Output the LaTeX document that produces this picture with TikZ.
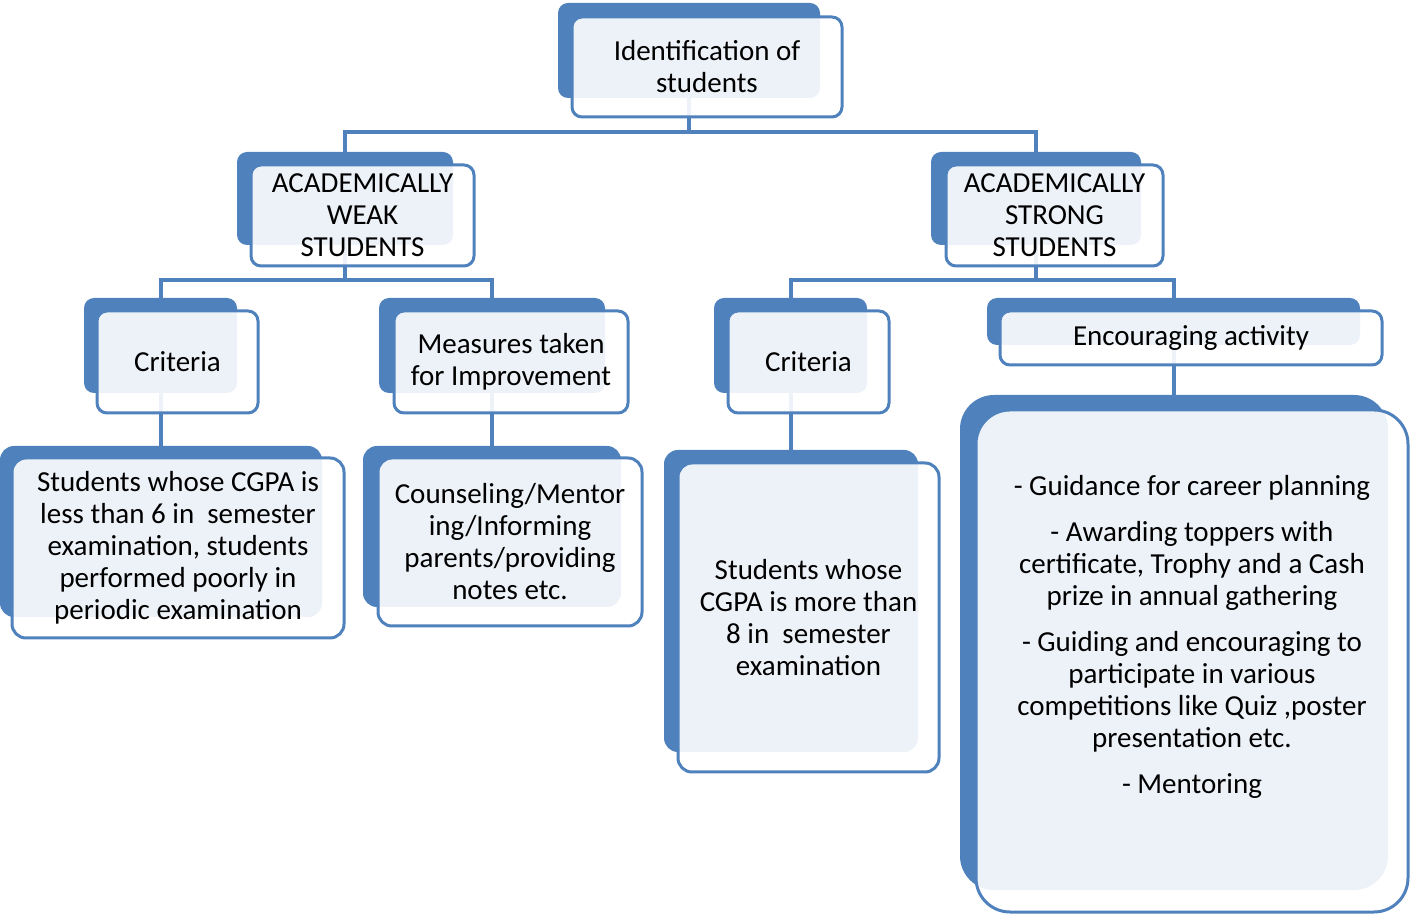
\documentclass[tikz,border=0pt]{standalone}
\usepackage{fontspec}
\setmainfont{Carlito}
\usepackage{tikz}
\definecolor{offblue}{RGB}{79,129,189}

\begin{document}
\begin{tikzpicture}[
  x=0.5pt, y=-0.5pt,
  back/.style={fill=offblue, rounded corners=5pt, inner sep=0pt},
  front/.style={draw=offblue, line width=1.5pt, fill=white, fill opacity=0.9, text opacity=1,
    rounded corners=5pt, align=center, inner sep=0pt, font=\fontsize{14.5}{16}\selectfont},
  link/.style={draw=offblue, line width=2pt}
]
\useasboundingbox (0,0) rectangle (1410,914);

\node[back, minimum width=131pt, minimum height=47.5pt] (idback) at (689,50.5) {};
\node[back, minimum width=108pt, minimum height=46.5pt] (weakback) at (345,198.5) {};
\node[back, minimum width=105pt, minimum height=46.5pt] (strongback) at (1036,198.5) {};
\node[back, minimum width=76.5pt, minimum height=47.5pt] (critwback) at (160.5,345.5) {};
\node[back, minimum width=113pt, minimum height=47.5pt] (measback) at (492,345.5) {};
\node[back, minimum width=76.5pt, minimum height=47.5pt] (critsback) at (790.5,345.5) {};
\node[back, minimum width=186.5pt, minimum height=23.5pt] (encback) at (1173.5,321.5) {};
\node[back, rounded corners=7pt, minimum width=161pt, minimum height=85.5pt] (lowback) at (161,531.5) {};
\node[back, rounded corners=7pt, minimum width=129pt, minimum height=80.5pt] (counsback) at (492,526.5) {};
\node[back, rounded corners=7pt, minimum width=127pt, minimum height=151pt] (highback) at (791,601) {};
\node[back, rounded corners=17pt, minimum width=214pt, minimum height=247.5pt] (actback) at (1174,642.5) {};

\coordinate (topbar) at (689,132);
\coordinate (weakbar) at (345,280);
\coordinate (strongbar) at (1036,280);
\draw[link] (idback.south) -- (topbar);
\draw[link] (weakback.north) |- (topbar) -| (strongback.north);
\draw[link] (weakback.south) -- (weakbar);
\draw[link] (critwback.north) |- (weakbar) -| (measback.north);
\draw[link] (strongback.south) -- (strongbar);
\draw[link] (critsback.north) |- (strongbar) -| (encback.north);
\draw[link] (critwback.south) -- (critwback.south |- lowback.north);
\draw[link] (measback.south) -- (measback.south |- counsback.north);
\draw[link] (critsback.south) -- (critsback.south |- highback.north);
\draw[link] (encback.south) -- (encback.south |- actback.north);

\node[front, minimum width=135pt, minimum height=50pt] (id) at (707,67) {Identification of\\students};
\node[front, minimum width=111.5pt, minimum height=50.5pt] (weak) at (362.5,215.5) {ACADEMICALLY\\WEAK\\STUDENTS};
\node[front, minimum width=108.5pt, minimum height=50.5pt] (strong) at (1054.5,215.5) {ACADEMICALLY\\STRONG\\STUDENTS};
\node[front, minimum width=80.5pt, minimum height=51pt] (critw) at (177.5,362) {Criteria};
\node[front, minimum width=117pt, minimum height=51pt] (meas) at (511,362) {Measures taken\\for Improvement};
\node[front, minimum width=80.5pt, minimum height=51pt] (crits) at (808.5,362) {Criteria};
\node[front, minimum width=191pt, minimum height=27pt] (enc) at (1191,338) {Encouraging activity};
\node[front, rounded corners=7pt, minimum width=166pt, minimum height=90pt] (low) at (178,548)
  {Students whose CGPA is\\less than 6 in~ semester\\examination, students\\performed poorly in\\periodic examination};
\node[front, rounded corners=7pt, minimum width=132pt, minimum height=84pt] (couns) at (510,542)
  {Counseling/Mentor\\ing/Informing\\parents/providing\\notes etc.};
\node[front, rounded corners=7pt, minimum width=130.5pt, minimum height=154.5pt] (high) at (808.5,617.5)
  {Students whose\\CGPA is more than\\8 in~ semester\\examination};
\node[front, rounded corners=17pt, minimum width=216pt, minimum height=251pt, text depth=27pt] (act) at (1192,661)
  {- Guidance for career planning\\[7pt]
   - Awarding toppers with\\certificate, Trophy and a Cash\\prize in annual gathering\\[7pt]
   - Guiding and encouraging to\\participate in various\\competitions like Quiz ,poster\\presentation etc.\\[7pt]
   - Mentoring};
\end{tikzpicture}
\end{document}
